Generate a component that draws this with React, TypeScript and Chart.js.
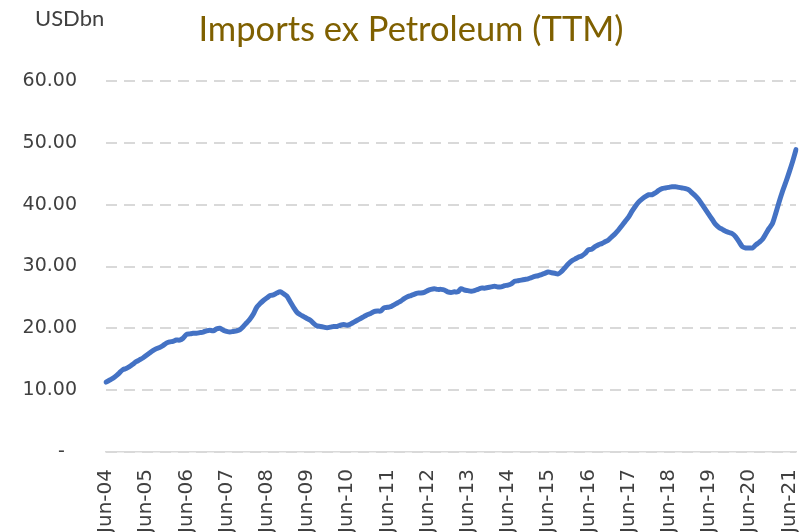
import React, { useEffect, useRef } from "react";
import { Chart, registerables } from "chart.js";

Chart.register(...registerables);

const TITLE = "Imports ex Petroleum (TTM)";
const UNIT = "USDbn";

const monthNames = ["Jun", "Jul", "Aug", "Sep", "Oct", "Nov", "Dec", "Jan", "Feb", "Mar", "Apr", "May"];
const startYear = 2004;

// monthly TTM imports ex petroleum, USD bn, Jun-04 .. Aug-21
const values2004 = [11.3, 11.6, 11.9, 12.3, 12.8, 13.3, 13.5, 13.8, 14.2, 14.6, 14.9, 15.2];
const values2005 = [15.6, 16.0, 16.4, 16.7, 16.9, 17.2, 17.6, 17.8, 17.9, 18.1, 18.1, 18.4];
const values2006 = [19.0, 19.1, 19.2, 19.2, 19.3, 19.4, 19.6, 19.7, 19.6, 19.9, 20.0, 19.7];
const values2007 = [19.5, 19.4, 19.5, 19.6, 19.8, 20.3, 20.9, 21.5, 22.3, 23.4, 24.0, 24.5];
const values2008 = [24.9, 25.3, 25.4, 25.7, 25.9, 25.6, 25.2, 24.3, 23.4, 22.6, 22.2, 21.9];
const values2009 = [21.6, 21.3, 20.8, 20.4, 20.3, 20.2, 20.1, 20.2, 20.3, 20.3, 20.5, 20.6];
const values2010 = [20.5, 20.7, 21.0, 21.3, 21.6, 21.9, 22.2, 22.4, 22.7, 22.8, 22.8, 23.3];
const values2011 = [23.4, 23.5, 23.8, 24.1, 24.4, 24.8, 25.1, 25.3, 25.5, 25.7, 25.7, 25.8];
const values2012 = [26.1, 26.3, 26.4, 26.3, 26.3, 26.2, 25.9, 25.8, 25.9, 25.9, 26.4, 26.2];
const values2013 = [26.1, 26.0, 26.1, 26.3, 26.5, 26.5, 26.6, 26.7, 26.8, 26.7, 26.7, 26.9];
const values2014 = [27.0, 27.2, 27.6, 27.7, 27.8, 27.9, 28.0, 28.2, 28.4, 28.5, 28.7, 28.9];
const values2015 = [29.1, 29.0, 28.9, 28.8, 29.2, 29.8, 30.4, 30.9, 31.2, 31.5, 31.7, 32.1];
const values2016 = [32.7, 32.8, 33.2, 33.5, 33.7, 34.0, 34.3, 34.8, 35.3, 35.9, 36.6, 37.3];
const values2017 = [38.0, 38.9, 39.7, 40.4, 40.9, 41.3, 41.6, 41.6, 41.9, 42.3, 42.6, 42.7];
const values2018 = [42.8, 42.9, 42.9, 42.8, 42.7, 42.6, 42.4, 41.9, 41.4, 40.8, 40.0, 39.2];
const values2019 = [38.4, 37.6, 36.8, 36.3, 36.0, 35.7, 35.5, 35.3, 34.8, 34.0, 33.2, 33.0];
const values2020 = [33.0, 33.0, 33.5, 33.9, 34.4, 35.3, 36.2, 37.0, 38.7, 40.5, 42.2, 43.7];
const values2021 = [45.3, 47.0, 48.9];

const values = [
  ...values2004, ...values2005, ...values2006, ...values2007, ...values2008,
  ...values2009, ...values2010, ...values2011, ...values2012, ...values2013,
  ...values2014, ...values2015, ...values2016, ...values2017, ...values2018,
  ...values2019, ...values2020, ...values2021,
];

const labels = values.map((_, i) => {
  const mon = monthNames[i % 12];
  const yr = startYear + Math.floor((i + 5) / 12);
  return `${mon}-${String(yr % 100).padStart(2, "0")}`;
});

const yTicks = [0, 10, 20, 30, 40, 50, 60];

const FONT = "Lato, 'Noto Sans', sans-serif";
const TICK_FONT = "'DejaVu Sans', sans-serif";

const textPlugin = {
  id: "headerText",
  afterDraw(chart: any) {
    const ctx = chart.ctx;
    ctx.save();
    ctx.textBaseline = "middle";
    ctx.textAlign = "center";
    ctx.fillStyle = "#7F6000";
    ctx.font = `34.5px ${FONT}`;
    ctx.fillText(TITLE, 411, 30);
    ctx.textAlign = "left";
    ctx.fillStyle = "#404040";
    ctx.font = `22px ${FONT}`;
    ctx.fillText(UNIT, 35, 19);
    ctx.restore();
  },
};

export default function App() {
  const ref = useRef<HTMLCanvasElement | null>(null);

  useEffect(() => {
    document.body.style.margin = "0";
    if (!ref.current) return;
    const chart = new Chart(ref.current, {
      type: "line",
      data: {
        labels,
        datasets: [
          {
            data: values,
            borderColor: "#4472C4",
            backgroundColor: "#4472C4",
            borderWidth: 5,
            pointRadius: 0,
            tension: 0.3,
            borderCapStyle: "round",
            borderJoinStyle: "round",
          },
        ],
      },
      options: {
        responsive: false,
        animation: false,
        layout: { padding: { top: 81, right: 14, bottom: 0, left: 0 } },
        plugins: {
          legend: { display: false },
          title: { display: false },
          tooltip: { enabled: false },
        },
        scales: {
          x: {
            type: "category",
            offset: false,
            grid: { display: false, drawTicks: false },
            border: { display: true, color: "#D9D9D9", width: 1.5 },
            ticks: {
              autoSkip: false,
              maxRotation: 90,
              minRotation: 90,
              padding: 17,
              color: "#404040",
              font: { family: TICK_FONT, size: 20 },
              callback: (_v: any, i: number) => (labels[i].startsWith("Jun") ? labels[i] : null),
            },
            afterFit: (s: any) => {
              s.height = 80;
              s.paddingLeft = 0;
              s.paddingRight = 0;
            },
          },
          y: {
            min: 0,
            max: 60,
            afterBuildTicks: (s: any) => {
              s.ticks = yTicks.map((v) => ({ value: v }));
            },
            grid: { color: "#D9D9D9", lineWidth: 2, drawTicks: false },
            border: { display: false, dash: [11, 7] },
            ticks: {
              padding: 29,
              color: "#404040",
              font: { family: TICK_FONT, size: 19 },
              callback: (v: any) => (Number(v) === 0 ? "-  " : Number(v).toFixed(2)),
            },
            afterFit: (s: any) => {
              s.width = 106;
              s.paddingTop = 0;
              s.paddingBottom = 0;
            },
          },
        },
      },
      plugins: [textPlugin],
    });
    return () => chart.destroy();
  }, []);

  return (
    <div style={{ width: 810, height: 532 }}>
      <canvas ref={ref} width={810} height={532} />
    </div>
  );
}
